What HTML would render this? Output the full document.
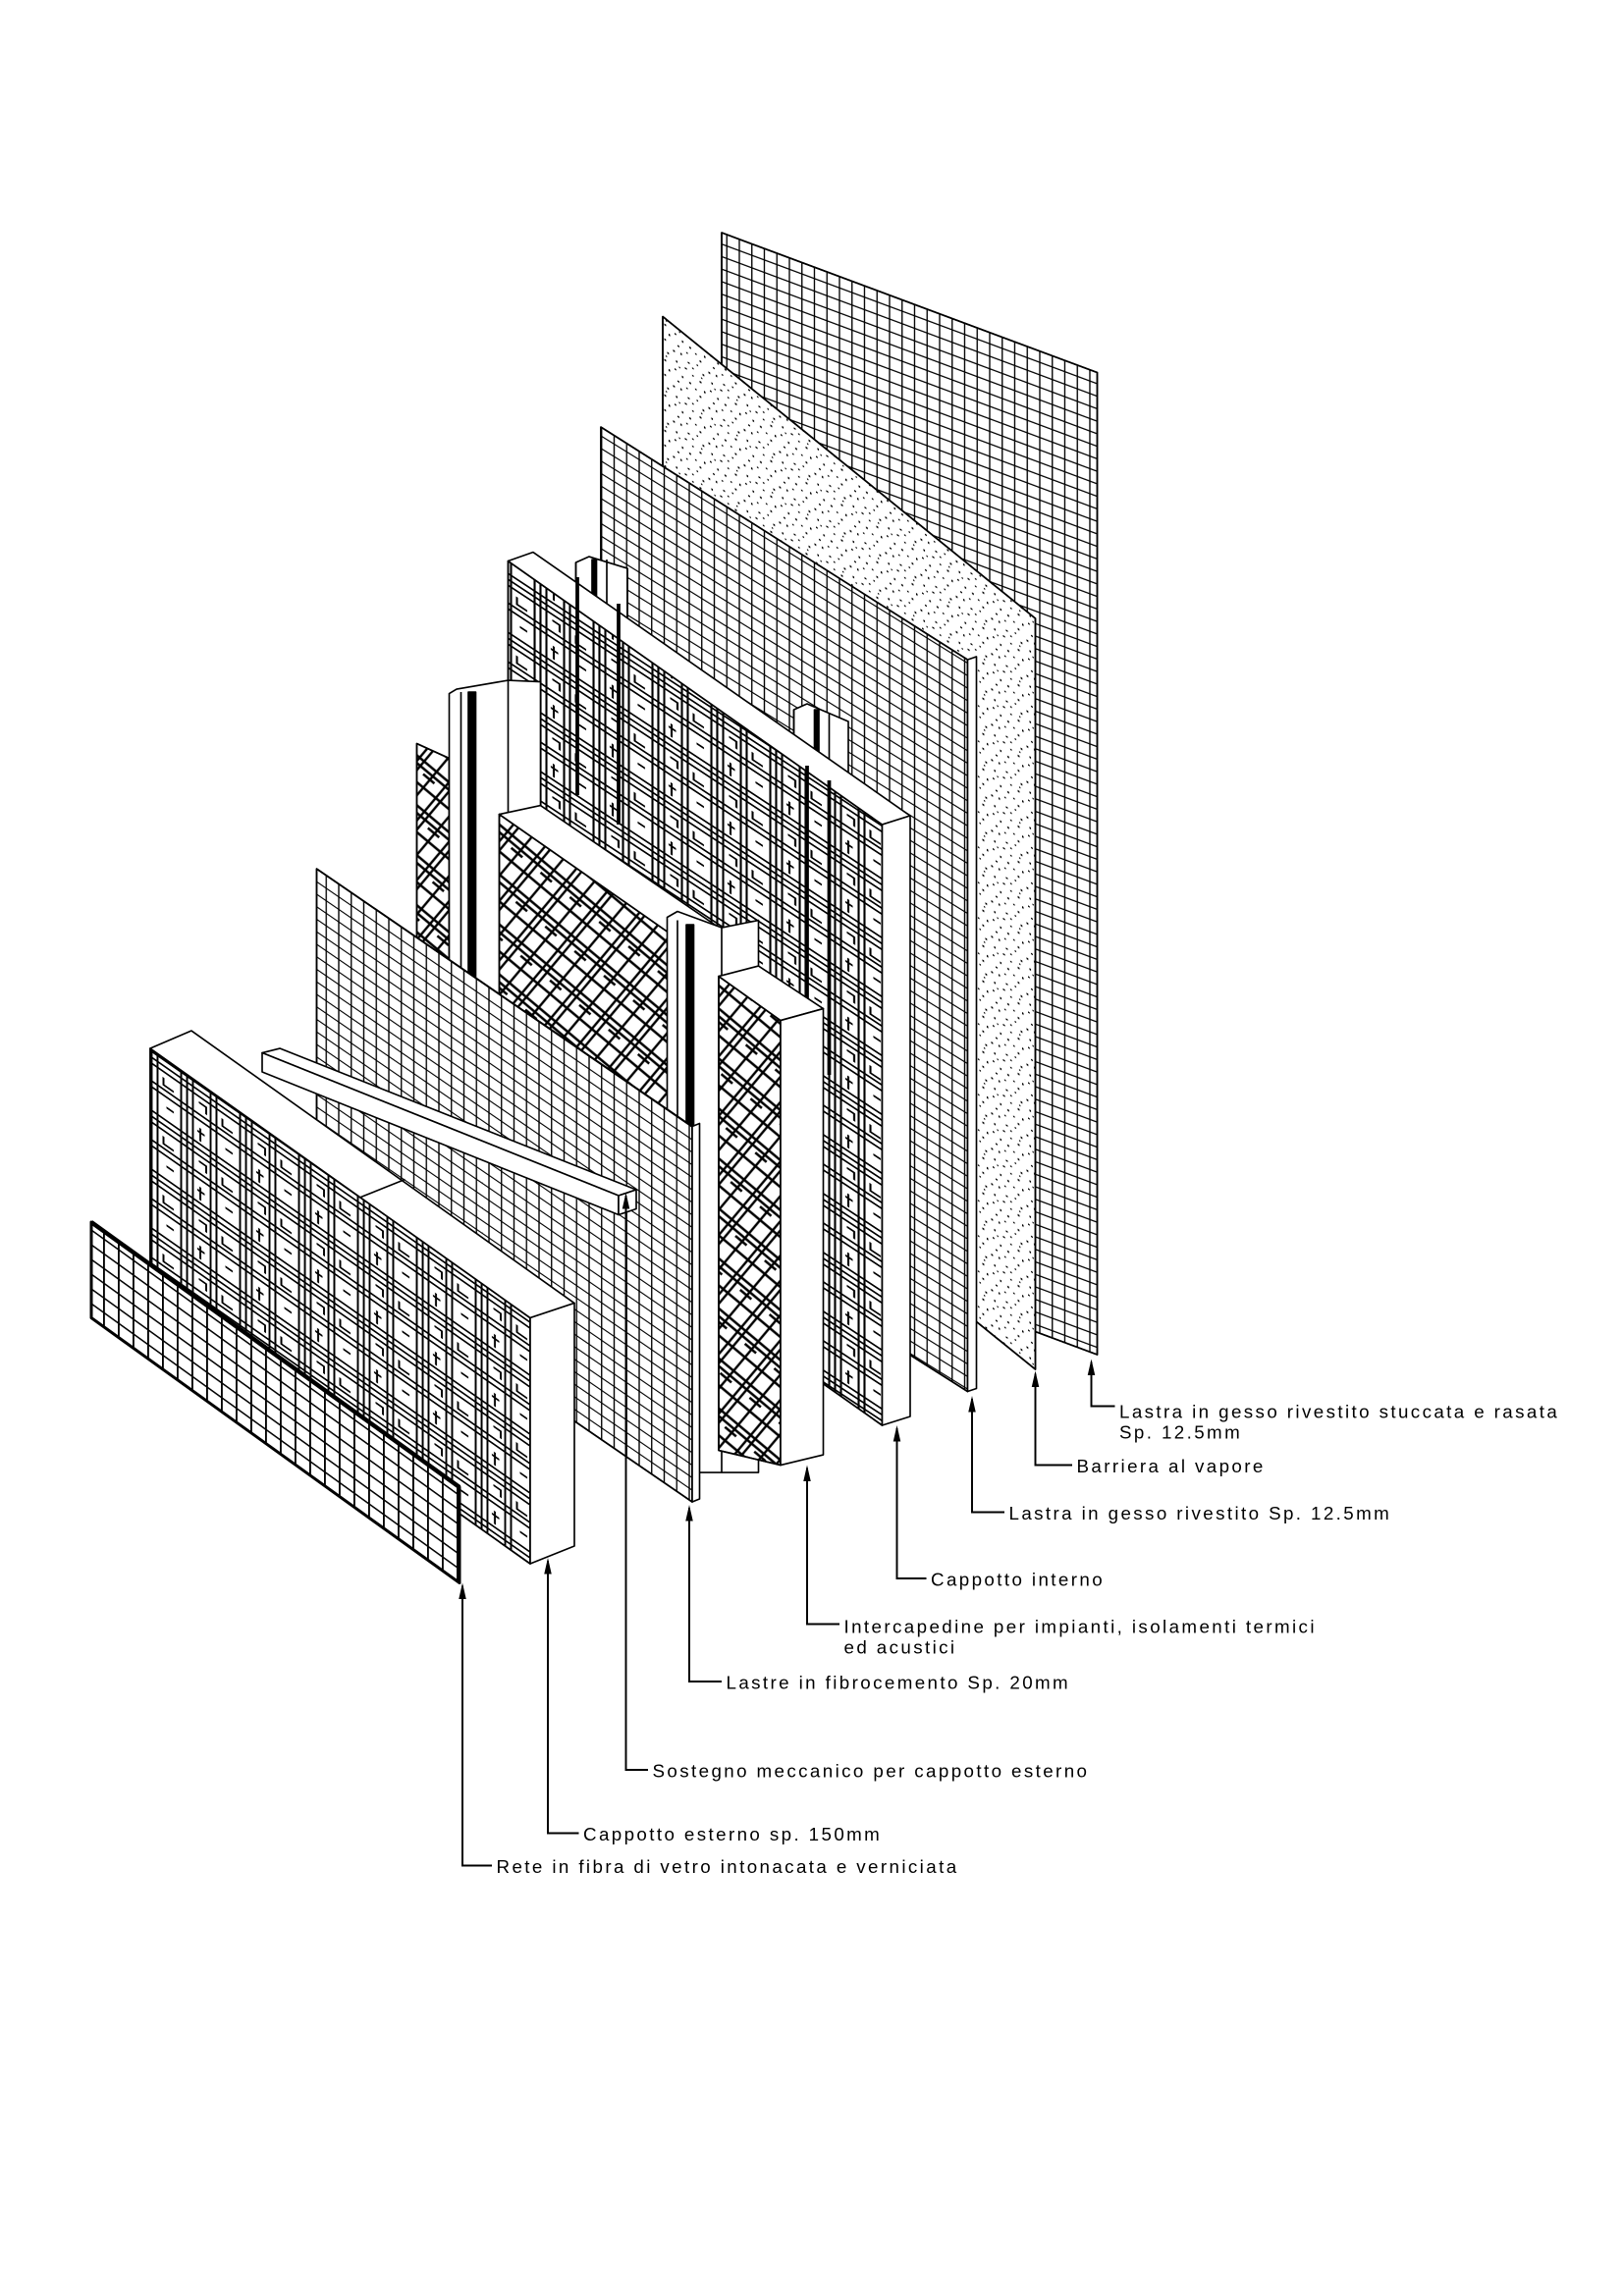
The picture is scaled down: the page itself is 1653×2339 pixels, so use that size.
<!DOCTYPE html>
<html><head><meta charset="utf-8"><style>
html,body{margin:0;padding:0;background:#fff}
svg{display:block}
text{font-family:"Liberation Sans",sans-serif;font-size:12.5px;letter-spacing:1.6px;fill:#000}
</style></head><body>
<svg width="1653" height="2339" viewBox="0 0 1102 1559.3" xmlns="http://www.w3.org/2000/svg">
<defs>
<pattern id="g1" width="8.5" height="8.5" patternUnits="userSpaceOnUse" patternTransform="skewY(20.4)"><path d="M0 0.5H8.5M0.5 0V8.5" stroke="#000" stroke-width="0.9"/></pattern>
<pattern id="g3" width="8.5" height="8.5" patternUnits="userSpaceOnUse" patternTransform="skewY(31.8)"><path d="M0 0.5H8.5M0.5 0V8.5" stroke="#000" stroke-width="0.9"/></pattern>
<pattern id="g6" width="8.5" height="8.5" patternUnits="userSpaceOnUse" patternTransform="skewY(34.5)"><path d="M0 0.5H8.5M0.5 0V8.5" stroke="#000" stroke-width="0.9"/></pattern>
<pattern id="gr" width="10" height="10" patternUnits="userSpaceOnUse" patternTransform="skewY(35.8)"><path d="M0 0.6H10M0.6 0V10" stroke="#000" stroke-width="1.3"/></pattern>
<pattern id="sp" width="24" height="24" patternUnits="userSpaceOnUse" patternTransform="skewY(31.8)">
<g fill="#000"><rect x="1" y="2" width="1.2" height="1.2"/><rect x="6" y="1" width="1" height="1.4"/><rect x="11" y="4" width="1.3" height="1"/><rect x="17" y="2" width="1" height="1"/><rect x="21" y="6" width="1.2" height="1.2"/><rect x="3" y="8" width="1" height="1.3"/><rect x="9" y="9" width="1.4" height="1"/><rect x="14" y="11" width="1" height="1"/><rect x="19" y="12" width="1.3" height="1.2"/><rect x="2" y="14" width="1.2" height="1"/><rect x="7" y="16" width="1" height="1.3"/><rect x="12" y="17" width="1.2" height="1.2"/><rect x="16" y="19" width="1" height="1"/><rect x="22" y="17" width="1" height="1.4"/><rect x="4" y="21" width="1.3" height="1"/><rect x="10" y="22" width="1" height="1"/><rect x="19" y="22" width="1.2" height="1.2"/><rect x="14" y="6" width="1" height="1"/><rect x="5" y="11" width="0.9" height="0.9"/><rect x="20" y="9" width="0.9" height="0.9"/></g></pattern>
<pattern id="cp" width="40" height="40" patternUnits="userSpaceOnUse" patternTransform="skewY(33.4)">
<g stroke="#000" stroke-width="1.4" fill="none"><path d="M0 2H40M0 6H40M0 10H40M0 22H40M0 26H40"/><path d="M3 0V40M7 0V40M11 0V40M23 0V40M27 0V40"/><path d="M15 14H20V19M33 33H38M16 31V40M31 14V19H38M14 34H19"/></g></pattern>
<pattern id="ce" width="40" height="40" patternUnits="userSpaceOnUse" patternTransform="skewY(35)">
<g stroke="#000" stroke-width="1.3" fill="none"><path d="M0 2H40M0 6H40M0 10H40M0 22H40M0 26H40"/><path d="M3 0V40M7 0V40M11 0V40M23 0V40M27 0V40"/><path d="M15 14H20V19M33 33H38M16 31V40M31 14V19H38M14 34H19"/></g></pattern>
<pattern id="dh" width="26" height="26" patternUnits="userSpaceOnUse" patternTransform="rotate(40)">
<g stroke="#000" stroke-width="1.6"><path d="M0 3H26M0 7H26M0 17H26M3 0V26M7 0V26M18 0V26M12 10H22"/></g></pattern>
</defs>
<g stroke="#000" stroke-width="1.1" stroke-linejoin="round">
<polygon points="490,158 745,253 745,920 490,825" fill="#fff"/>
<polygon points="490,158 745,253 745,920 490,825" fill="url(#g1)"/>
<polygon points="450,215 703,420 703,930 450,725" fill="#fff"/>
<polygon points="450,215 703,420 703,930 450,725" fill="url(#sp)"/>
<polygon points="408,290 657,448 657,945 408,787" fill="#fff"/>
<polygon points="408,290 657,448 657,945 408,787" fill="url(#g3)"/>
<polygon points="657,448 663,446 663,943 657,945" fill="#fff"/>
<polygon points="391,382 400,378 426,386 426,640 391,640" fill="#fff"/>
<path d="M391,382V640M412,380V640M426,386V640" fill="none"/>
<rect x="402" y="380" width="3" height="260" fill="#000"/>
<polygon points="539,482 548,478 576,490 576,700 539,700" fill="#fff"/>
<path d="M539,482V700M563,484V700" fill="none"/>
<rect x="553" y="482" width="3" height="218" fill="#000"/>
<polygon points="345,381 599,560 599,968 345,789" fill="#fff"/>
<polygon points="345,381 599,560 599,968 345,789" fill="url(#cp)"/>
<polygon points="345,381 362,375 618,554 599,560" fill="#fff"/>
<polygon points="599,560 618,554 618,962 599,968" fill="#fff"/>
<path d="M392,392V540M420,410V560" stroke-width="2.5" fill="none"/>
<path d="M548,520V720M563,530V730" stroke-width="2.5" fill="none"/>
<polygon points="283,505 305,515 305,800 283,790" fill="#fff"/>
<polygon points="283,505 305,515 305,800 283,790" fill="url(#dh)"/>
<polygon points="305,471 310,468 345,462 367,463 367,800 305,800" fill="#fff"/>
<path d="M313,470V800M345,462V800" fill="none"/>
<rect x="318" y="470" width="5" height="330" fill="#000"/>
<polygon points="339,553 475,648 475,1000 339,905" fill="#fff"/>
<polygon points="339,553 475,648 475,1000 339,905" fill="url(#dh)"/>
<polygon points="339,553 367,547 500,638 475,648" fill="#fff"/>
<polygon points="453,623 460,619 490,630 515,625 515,1000 453,1000" fill="#fff"/>
<path d="M460,625V1000M490,630V1000" fill="none"/>
<rect x="466" y="628" width="5" height="372" fill="#000"/>
<polygon points="488,663 530,693 530,995 488,985" fill="#fff"/>
<polygon points="488,663 530,693 530,995 488,985" fill="url(#dh)"/>
<polygon points="488,663 515,656 559,685 530,693" fill="#fff"/>
<polygon points="530,693 559,685 559,988 530,995" fill="#fff"/>
<polygon points="215,590 470,765 470,1020 215,845" fill="#fff"/>
<polygon points="215,590 470,765 470,1020 215,845" fill="url(#g6)"/>
<polygon points="470,765 475,763 475,1018 470,1020" fill="#fff"/>
<polygon points="178,715 190,712 432,808 420,812" fill="#fff"/>
<polygon points="178,715 420,812 420,825 178,728" fill="#fff"/>
<polygon points="420,812 432,808 432,821 420,825" fill="#fff"/>
<polygon points="102,712 360,895 360,1062 102,879" fill="#fff"/>
<polygon points="102,712 360,895 360,1062 102,879" fill="url(#ce)"/>
<polygon points="102,712 130,700 390,885 360,895" fill="#fff"/>
<polygon points="360,895 390,885 390,1050 360,1062" fill="#fff"/>
<path d="M245,813L275,801" fill="none"/>
<polygon points="62,830 312,1010 312,1075 62,895" fill="#fff"/>
<polygon points="62,830 312,1010 312,1075 62,895" fill="url(#gr)" stroke-width="2"/>
<path d="M62,830L312,1010" stroke-width="3" fill="none"/>
</g>
<g stroke="#000" stroke-width="1.3" fill="none">
<path d="M741,925V955H757"/>
<path d="M703,933V995H728"/>
<path d="M660,950V1027H682"/>
<path d="M609,970V1072H629"/>
<path d="M548,997V1103H570"/>
<path d="M468,1024V1142H490"/>
<path d="M425,812V1202H440"/>
<path d="M372,1060V1245H393"/>
<path d="M314,1077V1267H334"/>
</g>
<g fill="#000">
<polygon points="741,923 738.5,934 743.5,934"/>
<polygon points="703,931 700.5,942 705.5,942"/>
<polygon points="660,948 657.5,959 662.5,959"/>
<polygon points="609,968 606.5,979 611.5,979"/>
<polygon points="548,995 545.5,1006 550.5,1006"/>
<polygon points="468,1022 465.5,1033 470.5,1033"/>
<polygon points="425,810 422.5,821 427.5,821"/>
<polygon points="372,1058 369.5,1069 374.5,1069"/>
<polygon points="314,1075 311.5,1086 316.5,1086"/>
</g>
<text x="760" y="963">Lastra in gesso rivestito stuccata e rasata</text>
<text x="760" y="977">Sp. 12.5mm</text>
<text x="731" y="1000">Barriera al vapore</text>
<text x="685" y="1032">Lastra in gesso rivestito Sp. 12.5mm</text>
<text x="632" y="1077">Cappotto interno</text>
<text x="573" y="1109">Intercapedine per impianti, isolamenti termici</text>
<text x="573" y="1123">ed acustici</text>
<text x="493" y="1147">Lastre in fibrocemento Sp. 20mm</text>
<text x="443" y="1207">Sostegno meccanico per cappotto esterno</text>
<text x="396" y="1250">Cappotto esterno sp. 150mm</text>
<text x="337" y="1272">Rete in fibra di vetro intonacata e verniciata</text>
</svg>
</body></html>
